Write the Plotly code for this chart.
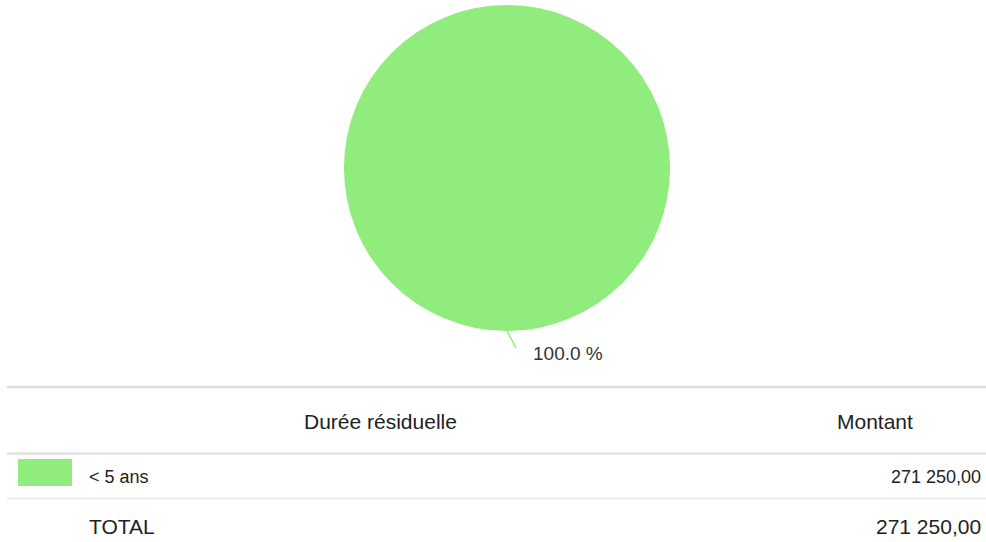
import plotly.graph_objects as go

# data
categories = ["< 5 ans"]
montants = [271250.00]
colors = ["#90ed7d"]
headers = ["Durée résiduelle", "Montant"]
total_label = "TOTAL"

W, H = 986, 542
FONT = "Liberation Sans, Arial, sans-serif"
TXT = "#222222"
LINE = "#e0e0e0"


def px(x):
    return x / W


def py(y):
    return 1 - y / H


def fmt(v):
    return f"{v:,.2f}".replace(",", " ").replace(".", ",")


# pie geometry (pixels)
cx, cy, r = 507, 168, 163

fig = go.Figure(go.Pie(
    labels=categories,
    values=montants,
    marker=dict(colors=colors, line=dict(width=0)),
    textinfo="none",
    sort=False,
    direction="clockwise",
    showlegend=False,
    domain=dict(x=[px(cx - r), px(cx + r)], y=[py(cy + r), py(cy - r)]),
))

total = sum(montants)
shapes = []
annotations = []

# data label with connector (single slice -> mid angle at bottom)
pct = [v / total * 100 for v in montants]
sx, sy = cx, cy + r
shapes.append(dict(type="line", xref="paper", yref="paper",
                   x0=px(sx), y0=py(sy), x1=px(sx + 9), y1=py(sy + 17),
                   line=dict(color=colors[0], width=1.5)))
annotations.append(dict(text=f"{pct[0]:.1f} %", x=px(sx + 24), y=py(sy + 22),
                        xanchor="left", yanchor="middle", showarrow=False,
                        font=dict(size=19, color="#333333", family=FONT)))

# table rules
for y, w, c in [(387, 2.5, LINE), (453.5, 2.5, LINE), (498.5, 1.5, "#e6e6e6")]:
    shapes.append(dict(type="line", xref="paper", yref="paper",
                       x0=px(7), x1=1, y0=py(y), y1=py(y),
                       line=dict(color=c, width=w)))

# header
annotations.append(dict(text=headers[0], x=px(380), y=py(421), xanchor="center",
                        yanchor="middle", showarrow=False,
                        font=dict(size=21, color=TXT, family=FONT)))
annotations.append(dict(text=headers[1], x=px(875), y=py(421), xanchor="center",
                        yanchor="middle", showarrow=False,
                        font=dict(size=21, color=TXT, family=FONT)))

# rows
row_y = 477
for i, (cat, val) in enumerate(zip(categories, montants)):
    yy = row_y + i * 46
    shapes.append(dict(type="rect", xref="paper", yref="paper",
                       x0=px(18), x1=px(72), y0=py(yy - 18), y1=py(yy + 9),
                       fillcolor=colors[i], line=dict(width=0)))
    annotations.append(dict(text=cat, x=px(87), y=py(yy), xanchor="left",
                            yanchor="middle", showarrow=False,
                            font=dict(size=18, color=TXT, family=FONT)))
    annotations.append(dict(text=fmt(val), x=px(983), y=py(yy), xanchor="right",
                            yanchor="middle", showarrow=False,
                            font=dict(size=18, color=TXT, family=FONT)))

# total row
ty = row_y + len(categories) * 46 + 3
annotations.append(dict(text=total_label, x=px(87), y=py(ty), xanchor="left",
                        yanchor="middle", showarrow=False,
                        font=dict(size=21, color=TXT, family=FONT)))
annotations.append(dict(text=fmt(total), x=px(983), y=py(ty), xanchor="right",
                        yanchor="middle", showarrow=False,
                        font=dict(size=21, color=TXT, family=FONT)))

fig.update_layout(
    width=W, height=H,
    margin=dict(l=0, r=0, t=0, b=0),
    paper_bgcolor="white", plot_bgcolor="white",
    shapes=shapes, annotations=annotations,
    font=dict(family=FONT),
)

# drop the default page margin so the figure fills the window
fig.write_html("out.html", config={"displayModeBar": False},
               post_script="document.body.style.margin='0';")
